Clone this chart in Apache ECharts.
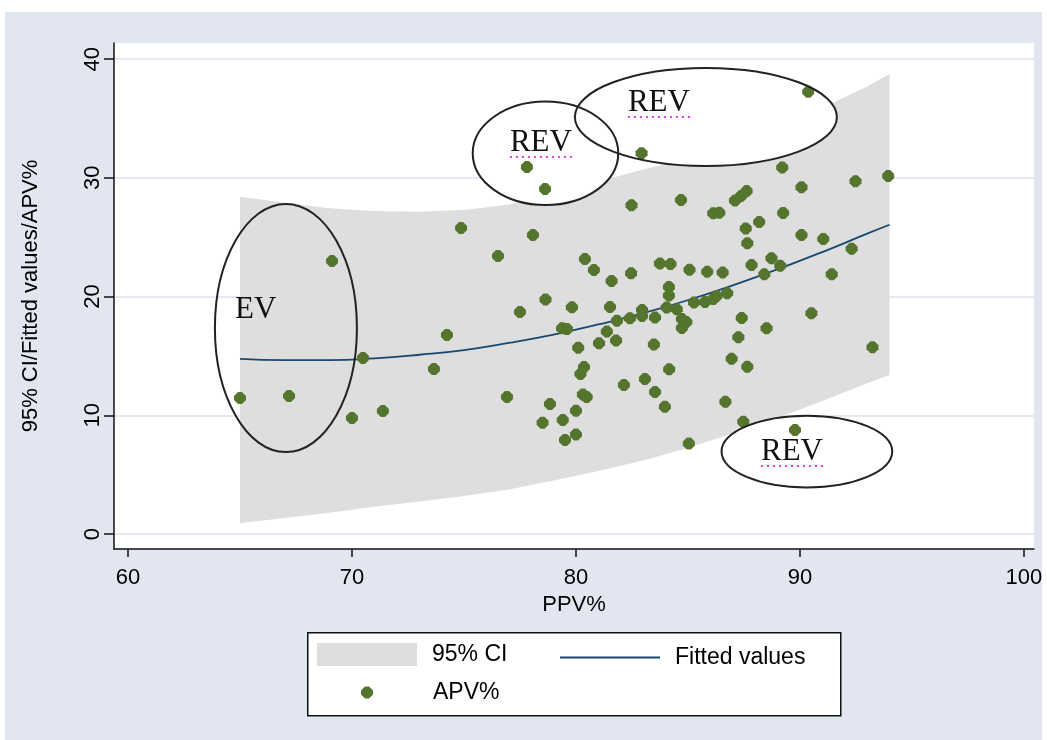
<!DOCTYPE html>
<html>
<head>
    <meta charset="utf-8">
    <title>APV% vs PPV%</title>
    <script src="https://cdn.jsdelivr.net/npm/echarts@6/dist/echarts.min.js"></script>
    <style type="text/css">
        html, body { margin: 0; padding: 0; background: #fff; }
        #main { width: 1047px; height: 740px; }
    </style>
</head>
<body>
<div id="main"></div>
<script type="text/javascript">
    // axis ticks
    var xTicks = [60, 70, 80, 90, 100];
    var yTicks = [0, 10, 20, 30, 40];

    // 95% CI band and fitted values
    var ciX = [65, 67, 69, 71, 73, 75, 77, 79, 81, 83, 85, 87, 89, 91, 93, 94];
    var ciUpper = [28.4, 27.9, 27.45, 27.2, 27.15, 27.3, 27.75, 28.6, 29.7, 30.7, 31.6, 32.8, 34.2, 35.9, 37.7, 38.75];
    var ciLower = [0.9, 1.35, 1.8, 2.3, 2.75, 3.2, 3.75, 4.5, 5.3, 6.2, 7.25, 8.5, 9.8, 11.2, 12.7, 13.4];
    var fitY = [14.75, 14.65, 14.65, 14.8, 15.1, 15.5, 16.1, 16.8, 17.65, 18.6, 19.7, 20.95, 22.3, 23.75, 25.3, 26.05];

    // APV% points
    var apvX = [65.00, 67.19, 69.11, 70.49, 70.00, 71.38, 74.24, 73.66, 74.87, 76.52,
        76.92, 77.50, 77.81, 78.62, 78.08, 78.64, 78.51, 78.84, 79.41, 79.51,
        80.00, 80.00, 79.38, 79.60, 79.82, 80.10, 80.36, 80.20, 80.31, 80.48,
        80.40, 80.80, 81.03, 81.38, 81.52, 81.59, 81.79, 81.83, 82.14, 82.46,
        82.48, 82.93, 82.41, 82.95, 82.95, 83.08, 83.48, 83.53, 83.53, 83.75,
        84.22, 83.97, 84.05, 84.15, 84.15, 84.16, 84.50, 84.69, 84.73, 84.93,
        84.73, 85.04, 85.07, 85.27, 85.76, 85.86, 86.13, 86.28, 86.13, 86.40,
        86.55, 86.67, 86.75, 86.95, 87.10, 87.37, 87.62, 87.25, 87.40, 87.47,
        87.58, 87.65, 87.65, 87.84, 88.18, 88.41, 88.51, 88.73, 89.12, 89.21,
        89.25, 89.78, 90.07, 90.07, 90.37, 90.51, 91.04, 91.42, 92.31, 92.48,
        93.24, 93.94];
    var apvY = [11.46, 11.63, 23.00, 14.83, 9.77, 10.36, 16.76, 13.90, 25.78, 23.42,
        11.54, 18.70, 30.92, 29.06, 25.19, 19.76, 9.38, 10.95, 9.60, 7.92,
        8.38, 10.39, 17.33, 17.27, 19.10, 15.70, 14.07, 13.48, 11.75, 11.54,
        23.17, 22.24, 16.07, 17.06, 19.12, 21.31, 16.30, 17.97, 12.55, 21.96,
        27.69, 32.07, 18.17, 18.87, 18.37, 13.06, 15.96, 18.24, 11.96, 22.79,
        22.75, 10.72, 19.08, 20.81, 20.09, 13.88, 18.93, 28.14, 18.11, 17.86,
        17.35, 7.62, 22.27, 19.50, 19.55, 22.10, 19.80, 20.05, 27.02, 27.07,
        22.03, 11.15, 20.28, 14.77, 28.10, 28.48, 28.90, 16.57, 18.20, 9.46,
        25.74, 24.49, 14.09, 22.66, 26.28, 21.88, 17.33, 23.23, 22.59, 30.88,
        27.04, 8.76, 29.22, 25.19, 37.26, 18.59, 24.85, 21.88, 24.03, 29.71,
        15.73, 30.16];

    // hand drawn notes (in data units)
    var noteText = ['EV', 'REV', 'REV', 'REV'];
    var noteCx = [67.05, 78.64, 85.80, 90.31];
    var noteCy = [17.35, 32.07, 35.13, 6.95];
    var noteRx = [3.17, 3.25, 5.85, 3.81];
    var noteRy = [10.45, 4.36, 4.13, 3.02];
    var noteTx = [64.78, 77.05, 82.32, 88.26];
    var noteTy = [18.87, 32.94, 36.31, 6.91];
    var noteFilled = [false, true, true, true];

    var font = '"Liberation Sans", Arial, sans-serif';
    var dotShape = 'path://M4,0 L8,0 L12,4 L12,8 L8,12 L4,12 L0,8 L0,4 Z';
    var navy = '#1a476f';
    var green = '#55752f';

    var myChart = echarts.init(document.getElementById('main'));

    var noteData = noteText.map(function (t, i) {
        return [noteCx[i], noteCy[i], noteRx[i], noteRy[i], noteTx[i], noteTy[i], noteFilled[i] ? 1 : 0];
    });

    function ellipseOf(api) {
        var c = api.coord([api.value(0), api.value(1)]);
        var s = api.size([api.value(2), api.value(3)]);
        return { cx: c[0], cy: c[1], rx: s[0], ry: s[1] };
    }

    var legendText = { fontSize: 23, color: '#000', fontFamily: font };

    var option = {
        backgroundColor: '#e1e6f0',
        animation: false,
        grid: {
            left: 114, top: 43, right: 13, bottom: 191,
            show: true, backgroundColor: '#fff', borderWidth: 0
        },
        xAxis: {
            type: 'value', min: 59.375, max: 100.45,
            name: 'PPV%', nameLocation: 'middle', nameGap: 43,
            nameTextStyle: { fontSize: 22, color: '#000', fontFamily: font },
            axisLine: { show: true, onZero: false, lineStyle: { color: '#111', width: 1.5 } },
            axisTick: { show: true, length: 8, customValues: xTicks, lineStyle: { color: '#111', width: 1.5 } },
            axisLabel: { customValues: xTicks, margin: 18, fontSize: 22, color: '#000', fontFamily: font },
            splitLine: { show: false }
        },
        yAxis: {
            type: 'value', min: -1.26, max: 41.36,
            name: '95% CI/Fitted values/APV%', nameLocation: 'middle', nameGap: 72,
            nameTextStyle: { fontSize: 22, color: '#000', fontFamily: font },
            axisLine: { show: true, onZero: false, lineStyle: { color: '#111', width: 1.5 } },
            axisTick: { show: true, length: 10, customValues: yTicks, lineStyle: { color: '#111', width: 1.5 } },
            axisLabel: { customValues: yTicks, rotate: 90, margin: 10, fontSize: 22, color: '#000', fontFamily: font },
            splitLine: { show: true, lineStyle: { color: '#dde3ee', width: 1.5 } }
        },
        legend: [{
            left: 312, top: 638,
            itemWidth: 100, itemHeight: 23,
            selectedMode: false,
            textStyle: Object.assign({ padding: [0, 0, 0, 10] }, legendText),
            data: [{ name: '95% CI', icon: 'rect', itemStyle: { color: '#dedede' } }]
        }, {
            left: 555, top: 641,
            itemWidth: 100, itemHeight: 2,
            selectedMode: false,
            textStyle: Object.assign({ padding: [0, 0, 0, 10] }, legendText),
            data: [{ name: 'Fitted values', icon: 'rect', itemStyle: { color: navy } }]
        }, {
            left: 356, top: 676,
            itemWidth: 12, itemHeight: 12,
            selectedMode: false,
            textStyle: Object.assign({ padding: [0, 0, 0, 55] }, legendText),
            data: [{ name: 'APV%' }]
        }],
        graphic: [
            { type: 'rect', left: 0, top: 0, shape: { width: 1047, height: 12 }, style: { fill: '#fff' } },
            { type: 'rect', left: 0, top: 0, shape: { width: 5, height: 740 }, style: { fill: '#fff' } },
            { type: 'rect', left: 1042, top: 0, shape: { width: 5, height: 740 }, style: { fill: '#fff' } },
            {
                type: 'rect', left: 307, top: 632, z: 0,
                shape: { width: 533, height: 83 },
                style: { fill: '#fff', stroke: '#111', lineWidth: 1.5 }
            }
        ],
        series: [{
            name: '95% CI',
            type: 'custom',
            z: 1,
            silent: true,
            itemStyle: { color: '#dedede' },
            data: ciX.map(function (x, i) { return [x, ciLower[i], ciUpper[i]]; }),
            encode: { x: 0, y: [1, 2] },
            renderItem: function (params, api) {
                if (params.dataIndex !== 0) return;
                var pts = [];
                for (var i = 0; i < ciX.length; i++) pts.push(api.coord([ciX[i], ciUpper[i]]));
                for (var j = ciX.length - 1; j >= 0; j--) pts.push(api.coord([ciX[j], ciLower[j]]));
                return { type: 'polygon', shape: { points: pts }, style: { fill: '#dedede' } };
            }
        }, {
            // white fill of the notes, under the points
            name: 'notefill',
            type: 'custom',
            z: 2,
            silent: true,
            data: noteData,
            encode: { x: 0, y: 1 },
            renderItem: function (params, api) {
                if (!api.value(6)) return;
                return { type: 'ellipse', shape: ellipseOf(api), style: { fill: '#fff' } };
            }
        }, {
            name: 'Fitted values',
            type: 'line',
            z: 3,
            symbol: 'none',
            smooth: true,
            silent: true,
            color: navy,
            lineStyle: { color: navy, width: 1.8 },
            data: ciX.map(function (x, i) { return [x, fitY[i]]; })
        }, {
            name: 'APV%',
            type: 'scatter',
            z: 4,
            symbol: dotShape,
            symbolSize: 12,
            silent: true,
            itemStyle: { color: green, opacity: 1 },
            data: apvX.map(function (x, i) { return [x, apvY[i]]; })
        }, {
            name: 'notes',
            type: 'custom',
            z: 5,
            silent: true,
            data: noteData,
            encode: { x: 0, y: 1 },
            renderItem: function (params, api) {
                var i = params.dataIndex;
                var t = api.coord([api.value(4), api.value(5)]);
                var children = [
                    { type: 'ellipse', shape: ellipseOf(api), style: { fill: 'none', stroke: '#222', lineWidth: 2 } },
                    {
                        type: 'text', x: t[0], y: t[1],
                        style: {
                            text: noteText[i], fill: '#111', fontSize: 31,
                            fontFamily: '"Liberation Serif", "Times New Roman", serif',
                            verticalAlign: 'middle', align: 'left'
                        }
                    }
                ];
                if (noteText[i] === 'REV') {
                    children.push({
                        type: 'line',
                        shape: { x1: t[0], y1: t[1] + 14, x2: t[0] + 62, y2: t[1] + 14 },
                        style: { stroke: '#e040e0', lineWidth: 2, lineDash: [2, 4] }
                    });
                }
                return { type: 'group', children: children };
            }
        }]
    };

    myChart.setOption(option);
</script>
</body>
</html>
